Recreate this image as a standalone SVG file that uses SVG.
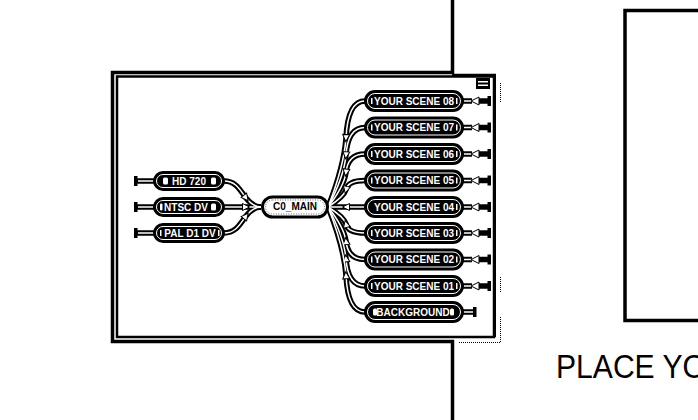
<svg xmlns="http://www.w3.org/2000/svg" width="698" height="420" viewBox="0 0 698 420">
<style>
.frame{fill:none;stroke:#000;stroke-width:3.5}
.panel{fill:#fff;stroke:#000;stroke-width:2.5}
.dot{fill:none;stroke:#000;stroke-width:1;stroke-dasharray:1 1}
.pill{fill:#000;stroke:#000;stroke-width:2}
.ring{fill:none;stroke:#fff;stroke-width:1}
.lbl{font-family:"Liberation Sans",Arial,sans-serif;font-weight:bold;font-size:10px;fill:#fff;text-anchor:middle}
.mlbl{font-family:"Liberation Sans",Arial,sans-serif;font-weight:bold;font-size:10px;fill:#000;text-anchor:middle}
.wire{fill:none;stroke:#000;stroke-width:5.5}
.core{fill:none;stroke:#fff;stroke-width:1.5}
.tick{fill:#fff}
.bar{fill:#000}
.arrw{fill:#fff;stroke:#000;stroke-width:1}
.big{font-family:"Liberation Sans",Arial,sans-serif;font-size:34px;fill:#000}
</style>
<defs>
<marker id="arr" viewBox="-1 -5 10 10" markerWidth="10" markerHeight="10" refX="3.5" refY="0" orient="auto" markerUnits="userSpaceOnUse">
<path d="M0,-3.5 L7,0 L0,3.5 Z" fill="#fff" stroke="#000" stroke-width="1"/>
</marker>
</defs>
<rect width="698" height="420" fill="#fff"/>

<g id="window">
<path class="frame" d="M452.5,0 V72.5 H112.5 V341.5 H452.5 V420"/>
<rect class="panel" x="117" y="76.5" width="377" height="260.5"/>
<line x1="494.5" y1="75" x2="494.5" y2="337" stroke="#000" stroke-width="3"/>
<line x1="452" y1="75" x2="496" y2="75" stroke="#000" stroke-width="2.5"/>
<path class="dot" d="M500.5,83 V103 M500.5,277 V293 M500.5,317 V342.5 H458"/>
<rect x="476" y="78" width="14" height="11" fill="#000"/>
<path d="M478,81.7 H488 M478,85.3 H488" stroke="#fff" stroke-width="1.4"/>
</g>

<g id="preview">
<rect x="625" y="10.5" width="100" height="310" fill="none" stroke="#000" stroke-width="3.5"/>
<text class="big" x="556" y="378" textLength="150" lengthAdjust="spacingAndGlyphs">PLACE YO</text>
</g>

<g id="connectors">
<path class="wire" d="M224,181 C236,181 240,190 246,198 C250,203 254,207 261,207"/>
<path class="wire" d="M224,207 L246,207 L261,207"/>
<path class="wire" d="M224,233 C236,233 240,224 246,216 C250,211 254,207 261,207"/>
<path class="wire" d="M365,101 C352,101 347,116.9 346,138.1 C344,164.6 333,194.3 328,207"/>
<path class="wire" d="M365,127.5 C352,127.5 347,139.4 346,155.3 C344,175.2 333,197.5 328,207"/>
<path class="wire" d="M365,154 C352,154 347,162 346,172.6 C344,185.8 333,200.6 328,207"/>
<path class="wire" d="M365,180.5 C352,180.5 347,184.5 346,189.8 C344,196.4 333,203.8 328,207"/>
<path class="wire" d="M365,207 L346,207 L328,207"/>
<path class="wire" d="M365,233 C352,233 347,229.1 346,223.9 C344,217.4 333,210.1 328,207"/>
<path class="wire" d="M365,259.5 C352,259.5 347,251.6 346,241.1 C344,228 333,213.3 328,207"/>
<path class="wire" d="M365,286 C352,286 347,274.2 346,258.4 C344,238.6 333,216.5 328,207"/>
<path class="wire" d="M365,312 C352,312 347,296.3 346,275.3 C344,249 333,219.6 328,207"/>
<g style="marker-mid:url(#arr)">
<path class="core" d="M224,181 C236,181 240,190 246,198 C250,203 254,207 261,207"/>
<path class="core" d="M224,207 L246,207 L261,207"/>
<path class="core" d="M224,233 C236,233 240,224 246,216 C250,211 254,207 261,207"/>
<path class="core" d="M365,101 C352,101 347,116.9 346,138.1 C344,164.6 333,194.3 328,207"/>
<path class="core" d="M365,127.5 C352,127.5 347,139.4 346,155.3 C344,175.2 333,197.5 328,207"/>
<path class="core" d="M365,154 C352,154 347,162 346,172.6 C344,185.8 333,200.6 328,207"/>
<path class="core" d="M365,180.5 C352,180.5 347,184.5 346,189.8 C344,196.4 333,203.8 328,207"/>
<path class="core" d="M365,207 L346,207 L328,207"/>
<path class="core" d="M365,233 C352,233 347,229.1 346,223.9 C344,217.4 333,210.1 328,207"/>
<path class="core" d="M365,259.5 C352,259.5 347,251.6 346,241.1 C344,228 333,213.3 328,207"/>
<path class="core" d="M365,286 C352,286 347,274.2 346,258.4 C344,238.6 333,216.5 328,207"/>
<path class="core" d="M365,312 C352,312 347,296.3 346,275.3 C344,249 333,219.6 328,207"/>
</g>
</g>

<g id="hd720">
<path class="wire" d="M137,181 H154"/><path class="core" d="M138,181 H154"/>
<rect class="bar" x="134" y="176" width="3.5" height="10"/>
<rect class="pill" x="154" y="172" width="70" height="18" rx="9"/>
<rect class="ring" x="156.5" y="174.5" width="65" height="13" rx="6.5"/>
<rect class="tick" x="163" y="177.5" width="5" height="7" rx="1.5"/>
<rect class="tick" x="211" y="177.5" width="5" height="7" rx="1.5"/>
<text class="lbl" x="189" y="184.6">HD 720</text>
</g>
<g id="ntscdv">
<path class="wire" d="M137,207 H154"/><path class="core" d="M138,207 H154"/>
<rect class="bar" x="134" y="202" width="3.5" height="10"/>
<rect class="pill" x="154" y="198" width="70" height="18" rx="9"/>
<rect class="ring" x="156.5" y="200.5" width="65" height="13" rx="6.5"/>
<rect class="tick" x="160" y="203.5" width="2.5" height="7" rx="1"/>
<rect class="tick" x="211" y="203.5" width="5" height="7" rx="1.5"/>
<text class="lbl" x="186" y="210.6">NTSC DV</text>
</g>
<g id="pald1dv">
<path class="wire" d="M137,233 H154"/><path class="core" d="M138,233 H154"/>
<rect class="bar" x="134" y="228" width="3.5" height="10"/>
<rect class="pill" x="154" y="224" width="70" height="18" rx="9"/>
<rect class="ring" x="156.5" y="226.5" width="65" height="13" rx="6.5"/>
<rect class="tick" x="160" y="230" width="1.5" height="6"/>
<rect class="tick" x="218" y="230" width="1.5" height="6"/>
<text class="lbl" x="190" y="236.6">PAL D1 DV</text>
</g>

<g id="c0main">
<rect x="262.5" y="197" width="65" height="20" rx="10" fill="#fff" stroke="#000" stroke-width="3"/>
<rect x="265.5" y="200" width="59" height="14" rx="7" fill="none" stroke="#000" stroke-width="0.6" stroke-dasharray="1 1.5"/>
<text class="mlbl" x="295" y="209.8">C0_MAIN</text>
</g>

<g id="scene08">
<path class="wire" d="M462,101 H472"/><path class="core" d="M462,101 H472"/>
<path class="wire" d="M478,101 H489"/>
<polygon class="arrw" points="471,101 479,97 479,105"/>
<rect class="bar" x="487.5" y="96" width="3.5" height="10"/>
<rect class="pill" x="365" y="91" width="98" height="20" rx="10"/>
<rect class="ring" x="367.5" y="93.5" width="93" height="15" rx="7.5"/>
<rect class="tick" x="371" y="98" width="1.5" height="6"/><rect class="tick" x="456" y="98" width="1.5" height="6"/>
<text class="lbl" x="414" y="104.6">YOUR SCENE 08</text>
</g>
<g id="scene07">
<path class="wire" d="M462,127.5 H472"/><path class="core" d="M462,127.5 H472"/>
<path class="wire" d="M478,127.5 H489"/>
<polygon class="arrw" points="471,127.5 479,123.5 479,131.5"/>
<rect class="bar" x="487.5" y="122.5" width="3.5" height="10"/>
<rect class="pill" x="365" y="117.5" width="98" height="20" rx="10"/>
<rect class="ring" x="367.5" y="120" width="93" height="15" rx="7.5"/>
<rect class="tick" x="371" y="124.5" width="1.5" height="6"/><rect class="tick" x="456" y="124.5" width="1.5" height="6"/>
<text class="lbl" x="414" y="131.1">YOUR SCENE 07</text>
</g>
<g id="scene06">
<path class="wire" d="M462,154 H472"/><path class="core" d="M462,154 H472"/>
<path class="wire" d="M478,154 H489"/>
<polygon class="arrw" points="471,154 479,150 479,158"/>
<rect class="bar" x="487.5" y="149" width="3.5" height="10"/>
<rect class="pill" x="365" y="144" width="98" height="20" rx="10"/>
<rect class="ring" x="367.5" y="146.5" width="93" height="15" rx="7.5"/>
<rect class="tick" x="371" y="151" width="1.5" height="6"/><rect class="tick" x="456" y="151" width="1.5" height="6"/>
<text class="lbl" x="414" y="157.6">YOUR SCENE 06</text>
</g>
<g id="scene05">
<path class="wire" d="M462,180.5 H472"/><path class="core" d="M462,180.5 H472"/>
<path class="wire" d="M478,180.5 H489"/>
<polygon class="arrw" points="471,180.5 479,176.5 479,184.5"/>
<rect class="bar" x="487.5" y="175.5" width="3.5" height="10"/>
<rect class="pill" x="365" y="170.5" width="98" height="20" rx="10"/>
<rect class="ring" x="367.5" y="173" width="93" height="15" rx="7.5"/>
<rect class="tick" x="371" y="177.5" width="1.5" height="6"/><rect class="tick" x="456" y="177.5" width="1.5" height="6"/>
<text class="lbl" x="414" y="184.1">YOUR SCENE 05</text>
</g>
<g id="scene04">
<path class="wire" d="M462,207 H472"/><path class="core" d="M462,207 H472"/>
<path class="wire" d="M478,207 H489"/>
<polygon class="arrw" points="471,207 479,203 479,211"/>
<rect class="bar" x="487.5" y="202" width="3.5" height="10"/>
<rect class="pill" x="365" y="197" width="98" height="20" rx="10"/>
<rect class="ring" x="367.5" y="199.5" width="93" height="15" rx="7.5"/>
<rect class="tick" x="456" y="204" width="1.5" height="6"/>
<text class="lbl" x="414" y="210.6">YOUR SCENE 04</text>
</g>
<g id="scene03">
<path class="wire" d="M462,233 H472"/><path class="core" d="M462,233 H472"/>
<path class="wire" d="M478,233 H489"/>
<polygon class="arrw" points="471,233 479,229 479,237"/>
<rect class="bar" x="487.5" y="228" width="3.5" height="10"/>
<rect class="pill" x="365" y="223" width="98" height="20" rx="10"/>
<rect class="ring" x="367.5" y="225.5" width="93" height="15" rx="7.5"/>
<rect class="tick" x="371" y="230" width="1.5" height="6"/><rect class="tick" x="456" y="230" width="1.5" height="6"/>
<text class="lbl" x="414" y="236.6">YOUR SCENE 03</text>
</g>
<g id="scene02">
<path class="wire" d="M462,259.5 H472"/><path class="core" d="M462,259.5 H472"/>
<path class="wire" d="M478,259.5 H489"/>
<polygon class="arrw" points="471,259.5 479,255.5 479,263.5"/>
<rect class="bar" x="487.5" y="254.5" width="3.5" height="10"/>
<rect class="pill" x="365" y="249.5" width="98" height="20" rx="10"/>
<rect class="ring" x="367.5" y="252" width="93" height="15" rx="7.5"/>
<rect class="tick" x="371" y="256.5" width="1.5" height="6"/><rect class="tick" x="456" y="256.5" width="1.5" height="6"/>
<text class="lbl" x="414" y="263.1">YOUR SCENE 02</text>
</g>
<g id="scene01">
<path class="wire" d="M462,286 H472"/><path class="core" d="M462,286 H472"/>
<path class="wire" d="M478,286 H489"/>
<polygon class="arrw" points="471,286 479,282 479,290"/>
<rect class="bar" x="487.5" y="281" width="3.5" height="10"/>
<rect class="pill" x="365" y="276" width="98" height="20" rx="10"/>
<rect class="ring" x="367.5" y="278.5" width="93" height="15" rx="7.5"/>
<rect class="tick" x="371" y="283" width="1.5" height="6"/><rect class="tick" x="456" y="283" width="1.5" height="6"/>
<text class="lbl" x="414" y="289.6">YOUR SCENE 01</text>
</g>
<g id="background">
<path class="wire" d="M462,312 H474"/><path class="core" d="M462,312 H474"/>
<rect class="bar" x="473" y="307" width="3.5" height="10"/>
<rect class="pill" x="365" y="302" width="98" height="20" rx="10"/>
<rect class="ring" x="367.5" y="304.5" width="93" height="15" rx="7.5"/>
<rect class="tick" x="373" y="308.5" width="4" height="7" rx="1.5"/><rect class="tick" x="450" y="308.5" width="4" height="7" rx="1.5"/>
<text class="lbl" x="413" y="315.6">BACKGROUND</text>
</g>
</svg>
